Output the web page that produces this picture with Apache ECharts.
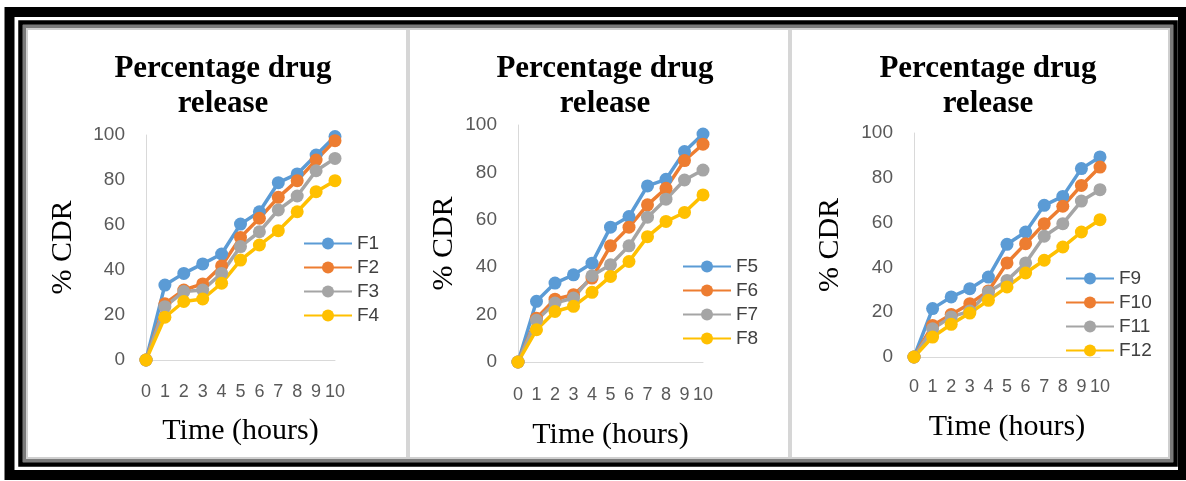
<!DOCTYPE html>
<html>
<head>
<meta charset="utf-8">
<script src="https://cdn.jsdelivr.net/npm/echarts@6/dist/echarts.min.js"></script>
<style>
html,body{margin:0;padding:0;background:#fff;}
#chart{width:1186px;height:481px;}
</style>
</head>
<body>
<div id="chart"></div>
<script>
const categories = ['0','1','2','3','4','5','6','7','8','9','10'];
const yTicks = [0, 20, 40, 60, 80, 100];
const titleText = 'Percentage drug\nrelease';
const xName = 'Time (hours)';
const yName = '% CDR';

const F1 = [0, 33.3, 38.5, 42.7, 47.1, 60.4, 65.9, 78.8, 82.7, 91.1, 99.3];
const F2 = [0, 25.0, 31.1, 33.8, 41.8, 54.5, 63.0, 72.3, 79.7, 88.9, 97.5];
const F3 = [0, 23.7, 30.4, 31.1, 38.5, 50.4, 57.0, 66.7, 72.9, 84.1, 89.6];
const F4 = [0, 19.0, 26.0, 27.1, 34.1, 44.4, 51.1, 57.5, 65.9, 74.8, 79.7];

const F5 = [0, 25.6, 33.3, 36.8, 41.7, 56.9, 61.4, 74.3, 77.1, 88.8, 96.2];
const F6 = [0, 18.5, 26.5, 28.4, 35.4, 49.0, 56.9, 66.3, 73.3, 85.0, 91.9];
const F7 = [0, 17.6, 24.9, 27.0, 36.4, 41.0, 49.0, 61.1, 68.7, 76.8, 81.0];
const F8 = [0, 13.6, 21.3, 23.5, 29.4, 36.1, 42.4, 52.9, 59.3, 63.1, 70.5];

const F9  = [0, 21.6, 26.8, 30.5, 35.7, 50.3, 55.8, 67.7, 71.7, 84.1, 89.3];
const F10 = [0, 14.1, 19.0, 23.8, 29.5, 42.0, 50.6, 59.5, 67.3, 76.6, 84.8];
const F11 = [0, 12.6, 17.9, 20.5, 29.0, 34.2, 42.0, 53.9, 59.5, 69.6, 74.7];
const F12 = [0,  8.9, 14.6, 19.6, 25.3, 31.3, 37.5, 43.2, 49.1, 55.8, 61.3];

const panels = [
  { names: ['F1','F2','F3','F4'], data: [F1,F2,F3,F4] },
  { names: ['F5','F6','F7','F8'], data: [F5,F6,F7,F8] },
  { names: ['F9','F10','F11','F12'], data: [F9,F10,F11,F12] }
];
const colors = ['#5B9BD5', '#ED7D31', '#A5A5A5', '#FFC000'];

// layout
const grids = [
  { left: 146, top: 135, width: 189, height: 225 },
  { left: 518, top: 125, width: 185, height: 237 },
  { left: 914, top: 133, width: 186, height: 224 }
];
const titleCenters = [218, 600, 983];
const titleTop = 46;
const xLabelMargins = [23, 24, 21];
const xNameGaps = [56, 58, 55];
const yNameGaps = [68, 59, 69];
const legendPos = [
  { left: 298, top: 229 },
  { left: 677, top: 252 },
  { left: 1060, top: 264 }
];

const sansFont = "'Liberation Sans', Arial, sans-serif";
const serifFont = "'Liberation Serif', 'Times New Roman', serif";

const option = {
  backgroundColor: '#ffffff',
  animation: false,
  color: colors,
  title: titleCenters.map(cx => ({
    text: titleText,
    left: cx,
    top: titleTop,
    textAlign: 'center',
    textStyle: { fontFamily: serifFont, fontSize: 31, fontWeight: 'bold', color: '#000', lineHeight: 35 }
  })),
  grid: grids,
  legend: panels.map((p, i) => ({
    data: p.names,
    orient: 'vertical',
    left: legendPos[i].left,
    top: legendPos[i].top,
    itemWidth: 48,
    itemHeight: 15,
    itemGap: 5,
    textStyle: { fontFamily: sansFont, fontSize: 19, color: '#404040' }
  })),
  xAxis: grids.map((g, i) => ({
    type: 'category',
    gridIndex: i,
    data: categories,
    boundaryGap: false,
    axisLine: { lineStyle: { color: '#d9d9d9', width: 1 } },
    axisTick: { show: false },
    axisLabel: { interval: 0, color: '#595959', fontSize: 18, fontFamily: sansFont, margin: xLabelMargins[i] },
    splitLine: { show: false },
    name: xName,
    nameLocation: 'middle',
    nameGap: xNameGaps[i],
    nameTextStyle: { fontFamily: serifFont, fontSize: 30, color: '#000' }
  })),
  yAxis: grids.map((g, i) => ({
    type: 'value',
    gridIndex: i,
    min: yTicks[0],
    max: yTicks[yTicks.length - 1],
    interval: 20,
    axisLine: { show: true, lineStyle: { color: '#d9d9d9', width: 1 } },
    axisTick: { show: false },
    splitLine: { show: false },
    axisLabel: { color: '#595959', fontSize: 19, fontFamily: sansFont, margin: 21 },
    name: yName,
    nameLocation: 'middle',
    nameGap: yNameGaps[i],
    nameTextStyle: { fontFamily: serifFont, fontSize: 30, color: '#000' }
  })),
  series: [],
  graphic: [
    { type: 'rect', shape: { x: 9.5, y: 12, width: 1173.5, height: 463 }, style: { fill: 'none', stroke: '#000', lineWidth: 10 }, silent: true, z: 100 },
    { type: 'rect', shape: { x: 20.5, y: 22.5, width: 1155, height: 442 }, style: { fill: 'none', stroke: '#000', lineWidth: 4.5 }, silent: true, z: 100 },
    { type: 'rect', shape: { x: 24.5, y: 26.5, width: 1147, height: 434 }, style: { fill: 'none', stroke: '#7a7a7a', lineWidth: 3 }, silent: true, z: 99 },
    { type: 'rect', shape: { x: 27, y: 29, width: 1142, height: 429 }, style: { fill: 'none', stroke: '#cfcfcf', lineWidth: 2 }, silent: true, z: 99 },
    { type: 'line', shape: { x1: 408, y1: 28, x2: 408, y2: 460 }, style: { stroke: '#d6d6d6', lineWidth: 4 }, silent: true, z: 98 },
    { type: 'line', shape: { x1: 790, y1: 28, x2: 790, y2: 460 }, style: { stroke: '#d6d6d6', lineWidth: 4 }, silent: true, z: 98 }
  ]
};

panels.forEach((p, i) => {
  p.names.forEach((name, k) => {
    option.series.push({
      name: name,
      type: 'line',
      xAxisIndex: i,
      yAxisIndex: i,
      data: p.data[k],
      symbol: 'circle',
      symbolSize: 13,
      lineStyle: { width: 3.5, color: colors[k] },
      itemStyle: { color: colors[k] }
    });
  });
});

const chart = echarts.init(document.getElementById('chart'), null, { renderer: 'canvas' });
chart.setOption(option);
</script>
</body>
</html>
